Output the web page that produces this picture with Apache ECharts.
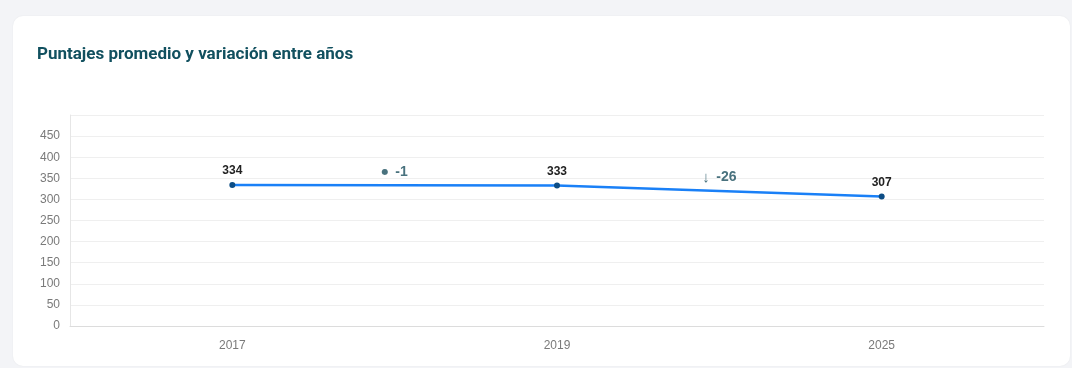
<!DOCTYPE html>
<html>
<head>
<meta charset="utf-8">
<script src="https://cdn.jsdelivr.net/npm/echarts@6/dist/echarts.min.js"></script>
<style>
  html, body { margin: 0; padding: 0; background: #f3f4f7; }
  #card {
    position: absolute; left: 13px; top: 16px; width: 1057px; height: 350px;
    background: #ffffff; border-radius: 10px;
    box-shadow: 0 0 2px rgba(0,0,0,0.06);
  }
  #chart { position: absolute; left: 0; top: 0; width: 1072px; height: 368px; }
</style>
</head>
<body>
<div id="card"></div>
<div id="chart"></div>
<script>
// Average scores per year
const years = ['2017', '2019', '2025'];
const scores = [334, 333, 307];
// Marker shown next to the change between consecutive years
const changeMarks = ['●', '↓'];
const yTicks = [0, 50, 100, 150, 200, 250, 300, 350, 400, 450];

// Change between consecutive years, placed halfway between them
const changes = [];
for (let i = 1; i < scores.length; i++) {
  changes.push({
    value: [i - 0.5, (scores[i] + scores[i - 1]) / 2],
    diff: scores[i] - scores[i - 1],
    mark: changeMarks[i - 1]
  });
}

const chart = echarts.init(document.getElementById('chart'), null, { renderer: 'canvas' });
chart.setOption({
  backgroundColor: 'transparent',
  animation: false,
  title: {
    text: 'Puntajes promedio y variación entre años',
    left: 32, top: 41,
    textStyle: { fontFamily: 'Roboto', fontSize: 17, fontWeight: 'bold', color: '#11505f' }
  },
  grid: { left: 70, right: 28, top: 115, bottom: 42 },
  xAxis: [
    {
      type: 'category',
      data: years,
      boundaryGap: true,
      axisLine: { lineStyle: { color: '#dcdcdc', width: 1 } },
      axisTick: { show: false },
      axisLabel: { color: '#7a7a7a', fontSize: 12, margin: 14, fontFamily: 'Liberation Sans' }
    },
    {
      type: 'value', min: -0.5, max: years.length - 0.5, show: false, position: 'bottom'
    }
  ],
  yAxis: {
    type: 'value', min: 0, max: 500, interval: 50,
    axisLine: { show: true, onZero: false, lineStyle: { color: '#e6e6e6' } },
    axisTick: { show: false },
    splitLine: { lineStyle: { color: '#efefef' } },
    axisLabel: {
      color: '#7a7a7a', fontSize: 12, margin: 10, fontFamily: 'Liberation Sans',
      formatter: v => (yTicks.indexOf(v) >= 0 ? String(v) : '')
    }
  },
  series: [
    {
      type: 'line',
      data: scores,
      xAxisIndex: 0,
      lineStyle: { color: '#1a80f7', width: 2.5 },
      symbol: 'circle', symbolSize: 6,
      itemStyle: { color: '#0c4d85' },
      label: {
        show: true, position: 'top', distance: 5,
        color: '#222', fontSize: 12, fontWeight: 'bold', fontFamily: 'Liberation Sans'
      }
    },
    {
      type: 'scatter',
      xAxisIndex: 1,
      symbolSize: 0,
      data: changes.map(c => ({ value: c.value, diff: c.diff, mark: c.mark })),
      label: {
        show: true, position: 'top', distance: 6,
        formatter: p => (p.data.mark === '●' ? '{d|●}' : '{m|' + p.data.mark + '}') +
          '  {n|' + p.data.diff + '}',
        rich: {
          d: { color: '#1c4f5e', fontSize: 8, fontFamily: 'DejaVu Sans' },
          m: { color: '#1c4f5e', fontSize: 15, fontFamily: 'Liberation Sans' },
          n: { color: '#1c4f5e', fontSize: 14, fontWeight: 'bold', fontFamily: 'Liberation Sans' }
        }
      }
    }
  ]
});
</script>
</body>
</html>
